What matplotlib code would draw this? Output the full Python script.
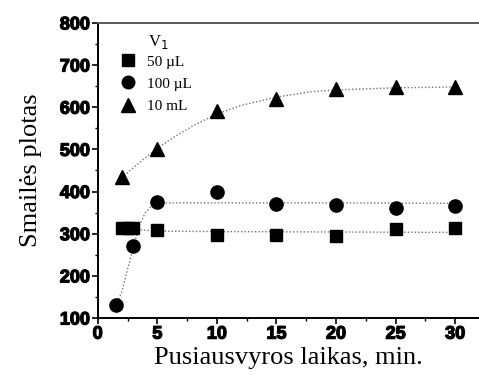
import matplotlib
matplotlib.use("Agg")
import matplotlib.pyplot as plt
from matplotlib.ticker import MultipleLocator
import matplotlib.patheffects as pe

# Data
x_sq = [2, 2.5, 3, 5, 10, 15, 20, 25, 30]
y_sq = [313, 313, 313, 308, 298, 298, 295, 310, 313]
x_ci = [1.5, 3, 5, 10, 15, 20, 25, 30]
y_ci = [130, 270, 375, 398, 370, 367, 360, 365]
x_tr = [2, 5, 10, 15, 20, 25, 30]
y_tr = [435, 502, 590, 620, 643, 648, 648]

# fitted (dotted) guide curves
fx_sq = [3, 5, 10, 20, 30]
fy_sq = [310, 306, 305, 304, 303]
fx_ci = [1.5, 2.0, 2.5, 3.0, 3.5, 4.0, 4.5, 5.0, 6.0, 10, 20, 30]
fy_ci = [130, 160, 215, 268, 320, 350, 365, 372, 373, 373, 373, 372]
fx_tr = [2, 3, 4, 5, 6, 8, 10, 12, 15, 18, 20, 25, 30]
fy_tr = [432, 457, 480, 502, 522, 556, 584, 604, 624, 637, 641, 646, 648]

labels = ["50 \u00b5L", "100 \u00b5L", "10 mL"]
legend_title = "V$_1$"
xlabel = "Pusiausvyros laikas, min."
ylabel = "Smail\u0117s plotas"

fig = plt.figure(figsize=(4.79, 3.75), dpi=100)
ax = fig.add_axes([0.204, 0.152, 0.796, 0.787])

dot = dict(linestyle=(0, (1, 1.5)), color="0.45", linewidth=1.0)
ax.plot(fx_sq, fy_sq, **dot)
ax.plot(fx_ci, fy_ci, **dot)
ax.plot(fx_tr, fy_tr, **dot)

hs = ax.plot(x_sq, y_sq, linestyle="none", marker="s", markersize=9, color="black", label=labels[0])[0]
hc = ax.plot(x_ci, y_ci, linestyle="none", marker="o", markersize=9.5, color="black", label=labels[1])[0]
ht = ax.plot(x_tr, y_tr, linestyle="none", marker="^", markersize=10.5, color="black", label=labels[2])[0]

ax.set_xlim(0, 32)
ax.set_ylim(100, 800)
ax.xaxis.set_major_locator(MultipleLocator(5))
ax.xaxis.set_minor_locator(MultipleLocator(2.5))
ax.yaxis.set_major_locator(MultipleLocator(100))
ax.yaxis.set_minor_locator(MultipleLocator(50))

for s in ["left", "bottom", "top"]:
    ax.spines[s].set_linewidth(1.4)
ax.spines["top"].set_color("0.35")
ax.spines["right"].set_visible(False)

ax.tick_params(which="major", direction="out", length=4, width=1.2, pad=1.5)
ax.tick_params(which="minor", direction="out", length=2, width=1.0)
ax.tick_params(top=False, right=False, which="both")
for lab in ax.get_xticklabels() + ax.get_yticklabels():
    lab.set_fontfamily("Liberation Sans")
    lab.set_fontweight("bold")
    lab.set_fontsize(13)
    lab.set_path_effects([pe.withStroke(linewidth=0.9, foreground="black")])

ax.set_xlabel(xlabel, fontfamily="Liberation Serif", fontsize=19, labelpad=3)
ax.set_ylabel(ylabel, fontfamily="Liberation Serif", fontsize=19, labelpad=13)

leg = ax.legend(handles=[hs, hc, ht], loc="upper left",
                bbox_to_anchor=(0.04, 0.917), frameon=False,
                prop={"family": "Liberation Serif", "size": 11},
                handlelength=1.0, handletextpad=0.75, labelspacing=0.55,
                borderpad=0.0, markerscale=0.95)
ax.text(0.131, 0.935, legend_title, transform=ax.transAxes,
        fontfamily="Liberation Serif", fontsize=12, ha="left", va="center")

fig.savefig("out.png", dpi=100)
